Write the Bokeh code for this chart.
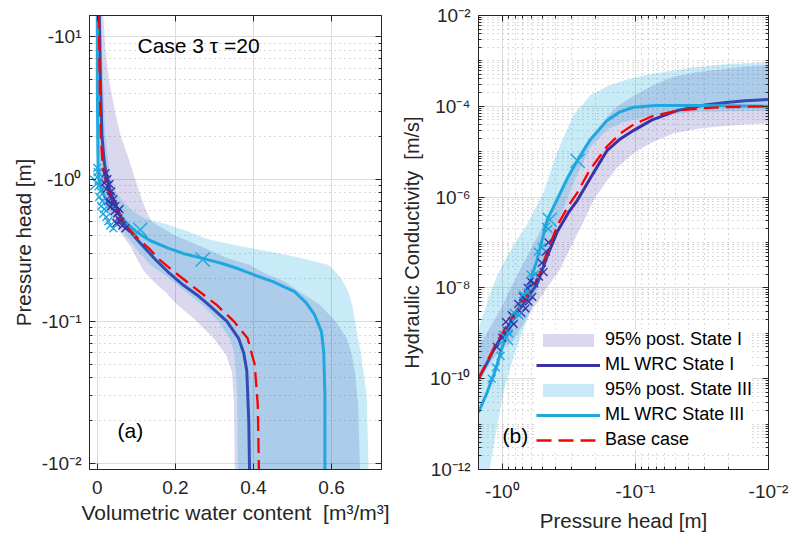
import numpy as np
from bokeh.plotting import figure
from bokeh.models import Range1d, FixedTicker, CustomJSTickFormatter, Label, LogAxis, LinearAxis
from bokeh.layouts import row
from bokeh.embed import file_html
from bokeh.resources import INLINE

# ---------------- data: panel (a) water retention (|h| in m, pressure head = -|h|)
h_base = [14.5, 5, 2, 1.3, 1.0, 0.8, 0.65, 0.53, 0.45, 0.38, 0.32, 0.27, 0.224, 0.18, 0.131, 0.1, 0.076, 0.05, 0.026, 0.0091]
theta_base = [0.004, 0.006, 0.009, 0.013, 0.02, 0.03, 0.045, 0.062, 0.08, 0.105, 0.135, 0.16, 0.196, 0.24, 0.305, 0.35, 0.385, 0.403, 0.411, 0.414]

h_mlI = [14.5, 5, 2, 1.3, 1.0, 0.8, 0.65, 0.53, 0.45, 0.38, 0.32, 0.27, 0.224, 0.18, 0.15, 0.131, 0.1, 0.076, 0.06, 0.045, 0.02, 0.0091]
theta_mlI = [0.005, 0.008, 0.012, 0.018, 0.025, 0.035, 0.048, 0.062, 0.078, 0.1, 0.125, 0.15, 0.18, 0.22, 0.26, 0.285, 0.332, 0.362, 0.375, 0.383, 0.388, 0.39]

h_mlIII = [14.5, 5, 2, 1.2, 1.0, 0.85, 0.73, 0.63, 0.53, 0.47, 0.43, 0.37, 0.326, 0.3, 0.277, 0.255, 0.235, 0.213, 0.19, 0.162, 0.135, 0.112, 0.085, 0.061, 0.03, 0.0091]
theta_mlIII = [0.0, 0.0, 0.001, 0.002, 0.004, 0.01, 0.021, 0.04, 0.064, 0.082, 0.098, 0.135, 0.183, 0.22, 0.27, 0.32, 0.36, 0.40, 0.45, 0.505, 0.535, 0.556, 0.574, 0.58, 0.583, 0.583]

h_bandI = [14.5, 8, 5, 3, 2, 1.4, 1.0, 0.75, 0.6, 0.5, 0.4, 0.337, 0.28, 0.25, 0.224, 0.19, 0.16, 0.131, 0.1, 0.075, 0.058, 0.044, 0.026, 0.0091]
theta_bandI_lo = [0.0, 0.0, 0.001, 0.002, 0.003, 0.005, 0.008, 0.015, 0.025, 0.04, 0.065, 0.085, 0.1, 0.11, 0.12, 0.145, 0.175, 0.205, 0.255, 0.3, 0.33, 0.345, 0.35, 0.352]
theta_bandI_hi = [0.015, 0.021, 0.03, 0.045, 0.06, 0.08, 0.097, 0.112, 0.125, 0.14, 0.2, 0.265, 0.33, 0.39, 0.42, 0.48, 0.52, 0.57, 0.61, 0.64, 0.652, 0.66, 0.668, 0.673]

h_bandIII = [14.5, 5, 2, 1.4, 1.0, 0.8, 0.7, 0.59, 0.53, 0.48, 0.43, 0.38, 0.34, 0.31, 0.28, 0.25, 0.224, 0.2, 0.162, 0.13, 0.1, 0.075, 0.061, 0.044, 0.03, 0.0091]
theta_bandIII_lo = [0.0, 0.0, 0.0, 0.0, 0.0, 0.005, 0.01, 0.025, 0.035, 0.05, 0.065, 0.08, 0.095, 0.105, 0.12, 0.135, 0.16, 0.185, 0.225, 0.27, 0.31, 0.34, 0.35, 0.355, 0.358, 0.36]
theta_bandIII_hi = [0.01, 0.015, 0.02, 0.027, 0.035, 0.05, 0.065, 0.093, 0.12, 0.18, 0.23, 0.28, 0.36, 0.44, 0.52, 0.59, 0.61, 0.625, 0.643, 0.653, 0.66, 0.668, 0.675, 0.682, 0.69, 0.695]

# observation markers (|h|, theta, log10 K)
h_obsI = [1.10, 1.0, 0.94, 0.92, 0.85, 0.82, 0.76, 0.72, 0.70, 0.67, 0.645, 0.635, 0.615, 0.595, 0.575, 0.53, 0.505, 0.49, 0.47, 0.45]
theta_obsI = [0.021, 0.026, 0.018, 0.031, 0.023, 0.036, 0.033, 0.041, 0.028, 0.039, 0.046, 0.033, 0.057, 0.044, 0.051, 0.054, 0.059, 0.049, 0.064, 0.072]
logK_obsI = [-9.3, -9.1, -8.75, -8.95, -8.6, -8.8, -8.35, -8.55, -8.2, -8.45, -8.0, -8.3, -7.85, -8.2, -7.9, -7.75, -7.45, -7.65, -7.2, -7.0]

h_obsIII = [1.2, 1.12, 1.03, 0.89, 0.82, 0.75, 0.70, 0.645, 0.615, 0.57, 0.54, 0.505, 0.47, 0.45]
theta_obsIII = [0.0, 0.001, 0.0, 0.003, 0.008, 0.005, 0.013, 0.010, 0.018, 0.015, 0.023, 0.028, 0.033, 0.041]
logK_obsIII = [-10.0, -9.75, -9.5, -9.0, -8.55, -8.6, -8.15, -8.1, -7.7, -7.7, -7.2, -7.1, -6.65, -6.7]

h_bigIII = [0.94, 0.44, 0.272]
theta_bigIII = [0.0, 0.11, 0.27]
logK_bigIII = [-9.1, -6.5, -5.2]

# ---------------- data: panel (b) hydraulic conductivity (log10 K [m/s])
h_K = [1.51, 1.3, 1.13, 0.98, 0.8, 0.65, 0.545, 0.46, 0.385, 0.32, 0.273, 0.22, 0.163, 0.13, 0.103, 0.075, 0.048, 0.03, 0.0217, 0.015, 0.01]
logK_mlI = [-10.0, -9.65, -9.3, -9.0, -8.6, -8.23, -7.9, -7.3, -6.75, -6.35, -6.07, -5.6, -4.97, -4.72, -4.53, -4.3, -4.09, -3.97, -3.92, -3.88, -3.85]
logK_base = [-10.0, -9.62, -9.26, -8.95, -8.55, -8.15, -7.82, -7.2, -6.62, -6.2, -5.9, -5.4, -4.88, -4.6, -4.4, -4.22, -4.09, -4.04, -4.02, -4.01, -4.0]

h_K_III = [1.51, 1.3, 1.13, 0.98, 0.8, 0.65, 0.55, 0.46, 0.38, 0.32, 0.268, 0.22, 0.163, 0.13, 0.103, 0.07, 0.04, 0.02, 0.01]
logK_mlIII = [-10.74, -10.3, -9.82, -9.22, -8.6, -8.06, -7.4, -6.5, -6.0, -5.55, -5.15, -4.75, -4.31, -4.12, -4.02, -3.98, -3.98, -3.99, -4.0]

h_KbandI = [1.51, 1.2, 1.0, 0.83, 0.6, 0.45, 0.37, 0.3, 0.25, 0.207, 0.16, 0.137, 0.1, 0.075, 0.052, 0.035, 0.025, 0.015, 0.01]
logK_bandI_lo = [-10.1, -9.6, -9.35, -9.16, -8.5, -7.95, -7.6, -7.05, -6.6, -6.07, -5.6, -5.35, -5.0, -4.8, -4.6, -4.5, -4.45, -4.4, -4.38]
logK_bandI_hi = [-9.3, -8.8, -8.4, -7.9, -7.1, -6.4, -5.9, -5.4, -5.0, -4.6, -4.2, -4.0, -3.75, -3.55, -3.35, -3.25, -3.2, -3.13, -3.1]

h_KbandIII = [1.51, 1.4, 1.3, 1.23, 1.1, 0.98, 0.8, 0.65, 0.6, 0.49, 0.386, 0.293, 0.218, 0.16, 0.123, 0.08, 0.0385, 0.02, 0.01]
logK_bandIII_lo = [-13.5, -12.8, -12.3, -11.9, -11.1, -10.3, -9.4, -8.7, -8.4, -7.6, -6.6, -5.7, -4.9, -4.5, -4.35, -4.22, -4.13, -4.11, -4.1]
logK_bandIII_hi = [-8.9, -8.6, -8.35, -8.1, -7.75, -7.45, -7.0, -6.6, -6.4, -5.9, -5.0, -4.2, -3.75, -3.55, -3.43, -3.3, -3.15, -3.07, -3.03]

# ticks / labels
theta_ticks = [0, 0.2, 0.4, 0.6]
h_ticks = [10, 1, 0.1, 0.01]
K_ticks = [1e-12, 1e-10, 1e-8, 1e-6, 1e-4, 1e-2]

def P(v):
    return 10.0 ** np.asarray(v)

# ---------------- style
AX = "#262626"
FONT = "Liberation Sans"
C_I = "#3b30a6"
C_III = "#1ea8df"
C_BASE = "#ff0000"
A_I = 0.19
A_III = 0.24
NB = "\u00a0"

SUP = "{'0':'\u2070','1':'\u00b9','2':'\u00b2','3':'\u00b3','4':'\u2074','5':'\u2075','6':'\u2076','7':'\u2077','8':'\u2078','9':'\u2079','-':'\u207b'}"
def pow_fmt(prefix):
    return CustomJSTickFormatter(code=(
        "const sup = " + SUP + ";"
        "const e = Math.round(Math.log10(tick));"
        "return '" + prefix + "10' + String(e).split('').map(c => sup[c]).join('');"))

def minor_list(lo, hi, ks):
    return [k * 10.0 ** n for n in range(lo, hi) for k in ks]

def style_axis(ax):
    ax.axis_line_color = AX
    ax.major_tick_line_color = AX
    ax.minor_tick_line_color = AX
    ax.major_tick_in = 6
    ax.major_tick_out = 0
    ax.minor_tick_in = 3
    ax.minor_tick_out = 0
    ax.major_label_text_font = FONT
    ax.major_label_text_color = AX
    ax.axis_label_text_font = FONT
    ax.axis_label_text_color = AX
    ax.axis_label_text_font_style = "normal"
    ax.major_label_text_font_size = "19px"
    ax.axis_label_text_font_size = "20.5px"

def mirror(axis_cls, ticker, minor=True):
    ax = axis_cls(ticker=ticker, formatter=CustomJSTickFormatter(code="return '';"))
    style_axis(ax)
    ax.major_label_text_font_size = "1px"
    ax.major_label_standoff = 0
    if not minor:
        ax.minor_tick_in = 0
    return ax

def style_grid(g, minor=True):
    g.grid_line_color = "#dcdcdc"
    g.grid_line_width = 1
    if minor:
        g.minor_grid_line_color = "#a0a0a0"
        g.minor_grid_line_alpha = 0.8
        g.minor_grid_line_dash = "1 4"
        g.minor_grid_line_width = 1

# ================= panel (a)
p1 = figure(width=396, height=538, y_axis_type="log",
            x_range=Range1d(-0.02, 0.728), y_range=Range1d(0.0091, 14.1),
            output_backend="svg", toolbar_location=None,
            min_border_left=89, min_border_right=15, min_border_top=15, min_border_bottom=69)
p1.outline_line_color = AX
p1.background_fill_color = "white"

xt1 = FixedTicker(ticks=theta_ticks, minor_ticks=[])
yt1 = FixedTicker(ticks=h_ticks, minor_ticks=minor_list(-3, 2, range(2, 10)))
p1.xaxis.ticker = xt1
p1.yaxis.ticker = yt1
p1.xgrid.ticker = xt1
p1.ygrid.ticker = yt1
p1.yaxis.formatter = pow_fmt("-")
style_axis(p1.xaxis[0]); style_axis(p1.yaxis[0])
p1.xaxis.minor_tick_in = 0
p1.xaxis.major_label_standoff = 11
p1.yaxis.major_label_standoff = 8
p1.xaxis.axis_label = "Volumetric water content" + NB + " [m\u00b3/m\u00b3]"
p1.xaxis.axis_label_text_font_size = "21px"
p1.yaxis.axis_label = "Pressure head [m]"
p1.xaxis.axis_label_standoff = 4
p1.yaxis.axis_label_standoff = 4
style_grid(p1.xgrid[0], minor=False)
style_grid(p1.ygrid[0], minor=True)
p1.add_layout(mirror(LogAxis, yt1), "right")
p1.add_layout(mirror(LinearAxis, xt1, minor=False), "above")

p1.harea(y=h_bandI, x1=theta_bandI_lo, x2=theta_bandI_hi, fill_color=C_I, fill_alpha=A_I)
p1.line(theta_mlI, h_mlI, line_color=C_I, line_width=3)
p1.harea(y=h_bandIII, x1=theta_bandIII_lo, x2=theta_bandIII_hi, fill_color=C_III, fill_alpha=A_III)
p1.line(theta_mlIII, h_mlIII, line_color=C_III, line_width=3)
p1.line(theta_base, h_base, line_color=C_BASE, line_width=2.3, line_dash="15 7")
p1.scatter(theta_obsI, h_obsI, marker="x", size=11, line_color=C_I, line_width=1.4)
p1.scatter(theta_obsIII, h_obsIII, marker="x", size=11, line_color=C_III, line_width=1.4)
p1.scatter(theta_bigIII, h_bigIII, marker="x", size=20, line_color=C_III, line_width=1.4)

p1.add_layout(Label(x=48, y=424, x_units="screen", y_units="screen", text="Case 3 \u03c4 =20",
                    text_font=FONT, text_font_size="21px", text_color="#000000",
                    text_baseline="alphabetic"))
p1.add_layout(Label(x=28, y=39, x_units="screen", y_units="screen", text="(a)",
                    text_font=FONT, text_font_size="21px", text_color="#000000",
                    text_baseline="alphabetic"))

# ================= panel (b)
p2 = figure(width=393, height=538, x_axis_type="log", y_axis_type="log",
            x_range=Range1d(1.51, 0.01), y_range=Range1d(1e-12, 1e-2),
            output_backend="svg", toolbar_location=None,
            min_border_left=82, min_border_right=21, min_border_top=15, min_border_bottom=69)
p2.outline_line_color = AX
xt2 = FixedTicker(ticks=[1, 0.1, 0.01], minor_ticks=minor_list(-3, 1, range(2, 10)))
yt2 = FixedTicker(ticks=K_ticks,
                  minor_ticks=[v for v in minor_list(-13, -1, range(1, 10))
                               if not any(abs(v / t - 1) < 1e-6 for t in K_ticks)])
p2.xaxis.ticker = xt2
p2.yaxis.ticker = yt2
p2.xgrid.ticker = xt2
p2.ygrid.ticker = yt2
p2.xaxis.formatter = pow_fmt("-")
p2.yaxis.formatter = pow_fmt("")
style_axis(p2.xaxis[0]); style_axis(p2.yaxis[0])
p2.xaxis.major_label_standoff = 11
p2.yaxis.major_label_standoff = 8
p2.xaxis.axis_label = "Pressure head [m]"
p2.yaxis.axis_label = "Hydraulic Conductivity" + NB + " [m/s]"
p2.yaxis.axis_label_text_font_size = "20px"
p2.xaxis.axis_label_standoff = 4
p2.yaxis.axis_label_standoff = 4
style_grid(p2.xgrid[0]); style_grid(p2.ygrid[0])
p2.add_layout(mirror(LogAxis, yt2), "right")
p2.add_layout(mirror(LogAxis, xt2), "above")

p2.varea(x=h_KbandI, y1=P(logK_bandI_lo), y2=P(logK_bandI_hi), fill_color=C_I, fill_alpha=A_I,
         legend_label="95% post. State I")
p2.line(h_K, P(logK_mlI), line_color=C_I, line_width=3, legend_label="ML WRC State I")
p2.varea(x=h_KbandIII, y1=P(logK_bandIII_lo), y2=P(logK_bandIII_hi), fill_color=C_III, fill_alpha=A_III,
         legend_label="95% post. State III")
p2.line(h_K_III, P(logK_mlIII), line_color=C_III, line_width=3, legend_label="ML WRC State III")
p2.line(h_K, P(logK_base), line_color=C_BASE, line_width=2.3, line_dash="15 7", legend_label="Base case")
p2.scatter(h_obsI, P(logK_obsI), marker="x", size=11, line_color=C_I, line_width=1.4)
p2.scatter(h_obsIII, P(logK_obsIII), marker="x", size=11, line_color=C_III, line_width=1.4)
p2.scatter(h_bigIII, P(logK_bigIII), marker="x", size=20, line_color=C_III, line_width=1.4)

lg = p2.legend[0]
lg.location = (58, 19)
lg.glyph_width = 64
lg.glyph_height = 16
lg.label_height = 20
lg.spacing = 4
lg.padding = 4
lg.margin = 0
lg.label_standoff = 5
lg.label_text_font = FONT
lg.label_text_font_size = "18px"
lg.label_text_color = "#000000"
lg.border_line_color = None
lg.background_fill_color = "white"
lg.background_fill_alpha = 1.0

p2.add_layout(Label(x=24, y=34, x_units="screen", y_units="screen", text="(b)",
                    text_font=FONT, text_font_size="21px", text_color="#000000",
                    text_baseline="alphabetic"))

layout = row(p1, p2)
open("out.html", "w").write(file_html(layout, INLINE))
